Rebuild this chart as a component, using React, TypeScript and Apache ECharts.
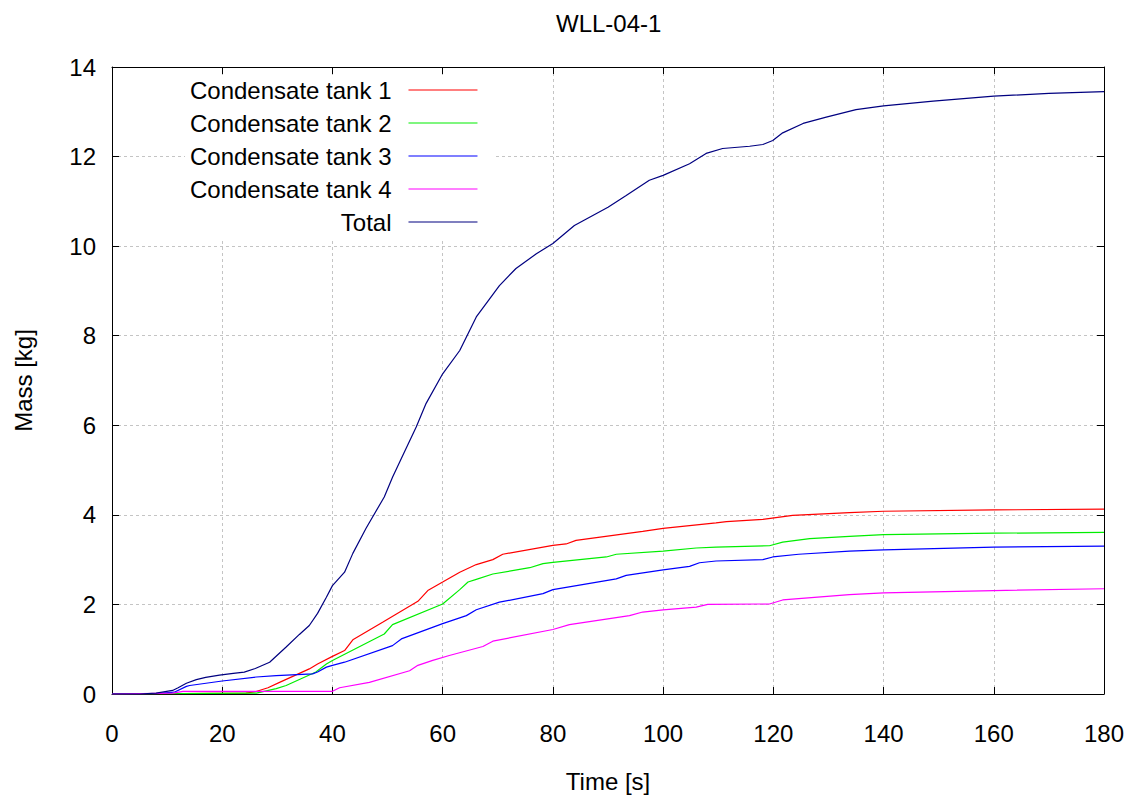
import React, { useEffect, useRef } from "react";
import * as echarts from "echarts";

const FONT = "'Liberation Sans', Arial, sans-serif";

const seriesNames = ["Condensate tank 1", "Condensate tank 2", "Condensate tank 3", "Condensate tank 4", "Total"];
const seriesColors = ["#ff0000", "#00ee00", "#0000ff", "#ff00ff", "#000080"];

const tank1T = [0, 24.3, 26, 28.3, 30.4, 35.8, 37.3, 40, 42.2, 43.7, 49.1, 55.5, 57.3, 60, 63.1, 66.1, 69.1, 70.9, 80, 82.4, 84.2, 96.3, 100, 109.6, 111.5, 118.1, 123.5, 133.8, 140, 160, 180];
const tank1V = [0, 0.02, 0.05, 0.14, 0.26, 0.56, 0.67, 0.84, 0.97, 1.21, 1.6, 2.07, 2.31, 2.5, 2.72, 2.89, 3.0, 3.12, 3.32, 3.35, 3.43, 3.63, 3.7, 3.82, 3.85, 3.9, 3.99, 4.05, 4.08, 4.11, 4.13];

const tank2T = [0, 26.2, 29.8, 31.6, 37, 38.9, 40, 49.4, 50.9, 60, 63.1, 64.6, 66.1, 69.1, 75.8, 78.2, 80, 89.7, 91.5, 100, 106, 109.6, 119.3, 121.7, 126.6, 133.8, 140, 160, 180];
const tank2V = [0, 0.02, 0.12, 0.19, 0.49, 0.67, 0.75, 1.34, 1.55, 2.01, 2.33, 2.5, 2.56, 2.68, 2.82, 2.91, 2.94, 3.06, 3.12, 3.19, 3.26, 3.28, 3.31, 3.39, 3.47, 3.52, 3.56, 3.59, 3.61];

const tank3T = [0, 8, 11.3, 13.5, 14.1, 20, 26.2, 29.8, 36.4, 37.3, 38.9, 40, 42.2, 50.9, 52.5, 60, 64.3, 66.1, 70.3, 78.2, 80, 91.5, 93.3, 100, 104.8, 106.6, 109.6, 118.1, 119.9, 124.6, 133.8, 140, 160, 180];
const tank3V = [0, 0.01, 0.04, 0.17, 0.19, 0.29, 0.38, 0.41, 0.45, 0.49, 0.6, 0.64, 0.71, 1.08, 1.23, 1.57, 1.75, 1.88, 2.05, 2.24, 2.33, 2.57, 2.65, 2.77, 2.85, 2.93, 2.97, 3.0, 3.06, 3.12, 3.19, 3.22, 3.28, 3.3];

const tank4T = [0, 11, 12.9, 40, 41.3, 46.7, 54, 55.5, 58.2, 61.2, 67.3, 69.1, 80, 83, 93.9, 96.3, 100, 106, 108.1, 119.3, 121.7, 133.8, 140, 160, 180];
const tank4V = [0, 0.02, 0.06, 0.06, 0.14, 0.26, 0.52, 0.64, 0.75, 0.86, 1.06, 1.18, 1.44, 1.55, 1.75, 1.83, 1.88, 1.94, 2.0, 2.01, 2.1, 2.22, 2.26, 2.31, 2.35];

const totalT = [0, 5, 8, 11, 12, 13.5, 15.3, 17, 19.5, 22, 24, 26, 28.6, 31.6, 34, 35.8, 37.3, 38.9, 40, 42.2, 43.7, 46.1, 49.4, 50.9, 52.5, 55.2, 57, 60, 63.1, 66.1, 70.3, 73.3, 77, 80, 83.9, 90, 93.3, 97.5, 100, 104.8, 107.8, 110.8, 115.7, 118.1, 119.9, 121.7, 125.4, 129.6, 135, 140, 149, 160, 170, 180];
const totalV = [0, 0, 0.02, 0.08, 0.14, 0.24, 0.32, 0.37, 0.42, 0.46, 0.49, 0.57, 0.71, 1.05, 1.33, 1.53, 1.8, 2.16, 2.42, 2.72, 3.14, 3.7, 4.4, 4.84, 5.26, 5.96, 6.49, 7.15, 7.67, 8.42, 9.12, 9.5, 9.83, 10.06, 10.46, 10.87, 11.13, 11.47, 11.58, 11.84, 12.07, 12.18, 12.23, 12.27, 12.36, 12.53, 12.74, 12.88, 13.05, 13.13, 13.24, 13.35, 13.41, 13.45];

const seriesTimes = [tank1T, tank2T, tank3T, tank4T, totalT];
const seriesValues = [tank1V, tank2V, tank3V, tank4V, totalV];

const xMin = 0, xMax = 180, xStep = 20;
const yMin = 0, yMax = 14, yStep = 2;

export default function App() {
  const ref = useRef<HTMLDivElement>(null);
  useEffect(() => {
    if (!ref.current) return;
    const chart = echarts.init(ref.current, undefined, { renderer: "svg" });
    const tickStyle = { show: true, inside: true, length: 7, lineStyle: { color: "#000", width: 1 } };
    const lineStyleAxis = { show: true, onZero: false, lineStyle: { color: "#000", width: 1 } };
    const split = { show: true, lineStyle: { color: "#c4c4c4", type: [3, 3] as any, width: 1 } };
    const label = { color: "#000", fontSize: 24, fontFamily: FONT };
    chart.setOption({
      animation: false,
      backgroundColor: "#fff",
      title: {
        text: "WLL-04-1",
        left: 556,
        top: 11,
        padding: 0,
        textStyle: { color: "#000", fontSize: 24, fontWeight: "normal", fontFamily: FONT },
      },
      legend: {
        orient: "vertical",
        align: "right",
        left: 185,
        top: 75,
        padding: [3, 16, 6, 5],
        backgroundColor: "#fff",
        icon: "rect",
        itemWidth: 69,
        itemHeight: 1.2,
        itemGap: 9,
        textStyle: { color: "#000", fontSize: 24, fontFamily: FONT, lineHeight: 24, padding: [0, 12, 0, 0] },
        data: seriesNames,
      },
      grid: { left: 112, right: 35, top: 67, bottom: 104, containLabel: false },
      xAxis: [
        {
          type: "value",
          min: xMin,
          max: xMax,
          interval: xStep,
          position: "bottom",
          name: "Time [s]",
          nameLocation: "middle",
          nameGap: 75,
          nameTextStyle: { color: "#000", fontSize: 24, fontFamily: FONT },
          axisLine: lineStyleAxis,
          axisTick: tickStyle,
          axisLabel: { ...label, margin: 27 },
          splitLine: split,
        },
        {
          type: "value",
          min: xMin,
          max: xMax,
          interval: xStep,
          position: "top",
          axisLine: lineStyleAxis,
          axisTick: tickStyle,
          axisLabel: { show: false },
          splitLine: { show: false },
        },
      ],
      yAxis: [
        {
          type: "value",
          min: yMin,
          max: yMax,
          interval: yStep,
          position: "left",
          name: "Mass [kg]",
          nameLocation: "middle",
          nameGap: 77,
          nameTextStyle: { color: "#000", fontSize: 24, fontFamily: FONT },
          axisLine: lineStyleAxis,
          axisTick: tickStyle,
          axisLabel: { ...label, margin: 16 },
          splitLine: split,
        },
        {
          type: "value",
          min: yMin,
          max: yMax,
          interval: yStep,
          position: "right",
          axisLine: lineStyleAxis,
          axisTick: tickStyle,
          axisLabel: { show: false },
          splitLine: { show: false },
        },
      ],
      series: seriesNames.map((name, i) => ({
        name,
        type: "line",
        xAxisIndex: 0,
        yAxisIndex: 0,
        symbol: "none",
        color: seriesColors[i],
        lineStyle: { color: seriesColors[i], width: 1.2 },
        data: seriesTimes[i].map((t, j) => [t, seriesValues[i][j]]),
        z: 2 + i,
      })),
    });
    return () => chart.dispose();
  }, []);
  return (
    <div
      ref={ref}
      style={{ position: "fixed", left: 0, top: 0, width: 1139, height: 798 }}
    />
  );
}
